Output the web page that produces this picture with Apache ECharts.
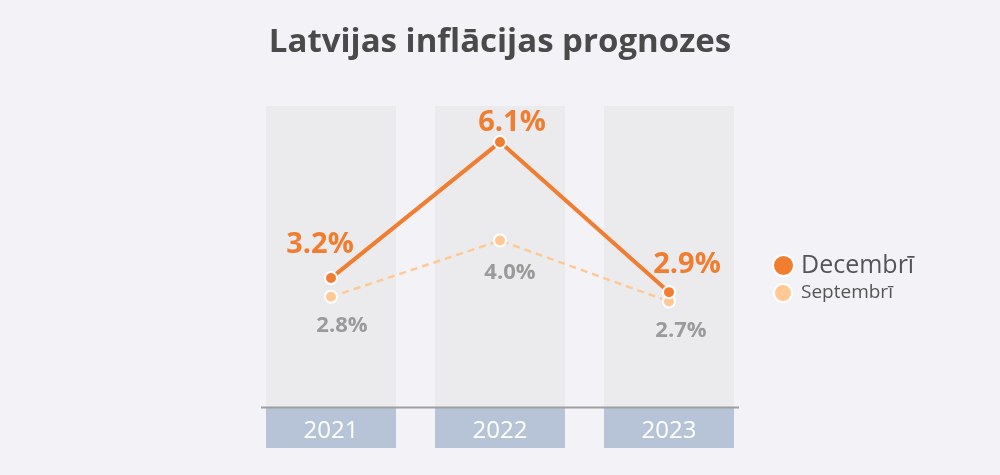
<!DOCTYPE html>
<html>
<head>
<meta charset="utf-8">
<script src="https://cdn.jsdelivr.net/npm/echarts@6/dist/echarts.min.js"></script>
<style>
  html, body { margin: 0; padding: 0; background: #f3f2f7; }
  #main { width: 1000px; height: 475px; }
</style>
</head>
<body>
<div id="main"></div>
<script>
// dati
var years = ["2021", "2022", "2023"];
var decembri = [3.2, 6.1, 2.9];
var septembri = [2.8, 4.0, 2.7];

// etiķešu nobīdes (tikai izkārtojums)
var decOffsets = [[-11, 2], [12, 16], [18, 8]];
var sepOffsets = [[11, -3], [10, 0], [12, -3]];

var orange = "#f07d30";
var peach = "#ffc895";

var myChart = echarts.init(document.getElementById("main"));

var decData = decembri.map(function (v, i) {
  return { value: v, label: { offset: decOffsets[i] } };
});
var sepData = septembri.map(function (v, i) {
  return { value: v, label: { offset: sepOffsets[i] } };
});

var option = {
  backgroundColor: "#f3f2f7",
  textStyle: { fontFamily: "Open Sans" },
  title: {
    text: "Latvijas inflācijas prognozes",
    left: "center",
    top: 21,
    textStyle: { fontSize: 33, fontWeight: "bold", color: "#4a4a4a", fontFamily: "Open Sans" }
  },
  legend: [
    {
      orient: "vertical",
      left: 772,
      top: 253,
      padding: 0,
      icon: "circle",
      itemWidth: 21,
      itemHeight: 21,
      data: [{ name: "Decembrī", itemStyle: { color: orange, borderColor: "#fff", borderWidth: 2 } }],
      textStyle: { fontSize: 25, color: "#555", fontFamily: "Open Sans", padding: [0, 0, 0, 2] }
    },
    {
      orient: "vertical",
      left: 773,
      top: 283,
      padding: 0,
      icon: "circle",
      itemWidth: 18,
      itemHeight: 18,
      data: [{ name: "Septembrī", itemStyle: { color: peach, borderColor: "#fff", borderWidth: 2 } }],
      textStyle: { fontSize: 19, color: "#555", fontFamily: "Open Sans", padding: [0, 0, 0, 4] }
    }
  ],
  grid: { left: 246.5, right: 246.5, top: 106, bottom: 68 },
  xAxis: {
    type: "category",
    data: years,
    axisLine: { show: false },
    axisTick: { show: false },
    axisLabel: {
      margin: 1,
      color: "#fff",
      fontSize: 24,
      backgroundColor: "#b7c4d7",
      width: 130,
      height: 40,
      lineHeight: 46,
      align: "center",
      verticalAlign: "top"
    }
  },
  yAxis: { type: "value", min: 0.45, max: 6.87, show: false, splitLine: { show: false } },
  graphic: [
    {
      type: "line",
      z: 100,
      shape: { x1: 261, y1: 407.5, x2: 739, y2: 407.5 },
      style: { stroke: "#a0a0a0", lineWidth: 2 }
    }
  ],
  series: [
    {
      name: "fons",
      type: "bar",
      data: decembri,
      barWidth: 130,
      silent: true,
      showBackground: true,
      backgroundStyle: { color: "#ebebee" },
      itemStyle: { color: "rgba(0,0,0,0)" },
      z: 1
    },
    {
      name: "Septembrī",
      type: "line",
      data: sepData,
      symbol: "circle",
      symbolSize: 12,
      itemStyle: { color: peach, borderColor: "#fff", borderWidth: 2 },
      lineStyle: { color: peach, width: 2.5, type: [7, 5] },
      label: {
        show: true,
        position: "bottom",
        distance: 14,
        formatter: function (p) { return p.value.toFixed(1) + "%"; },
        color: "#9a9a9a",
        fontSize: 22,
        fontWeight: "bold"
      },
      z: 3
    },
    {
      name: "Decembrī",
      type: "line",
      data: decData,
      symbol: "circle",
      symbolSize: 12,
      itemStyle: { color: orange, borderColor: "#fff", borderWidth: 2 },
      lineStyle: { color: orange, width: 4 },
      label: {
        show: true,
        position: "top",
        distance: 14,
        formatter: function (p) { return p.value.toFixed(1) + "%"; },
        color: orange,
        fontSize: 29,
        fontWeight: "bold"
      },
      z: 4
    }
  ]
};

myChart.setOption(option);
</script>
</body>
</html>
